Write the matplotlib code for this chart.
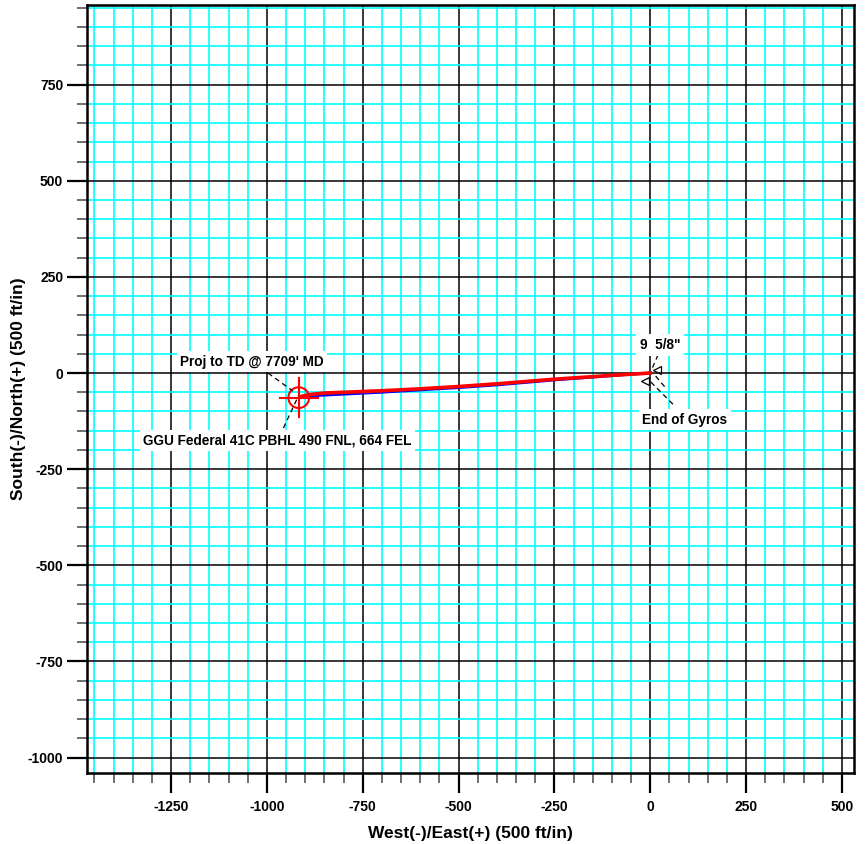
import numpy as np
import matplotlib.pyplot as plt
from matplotlib.ticker import MultipleLocator
from matplotlib.patches import Circle

plt.rcParams['font.family'] = ['Liberation Sans', 'DejaVu Sans']
plt.rcParams['font.weight'] = 'bold'
plt.rcParams['axes.unicode_minus'] = False

# well path (plan view), East / North in ft
plan_ew = [0, -50, -100, -250, -400, -500, -600, -700, -750, -800, -850, -880, -900, -914]
plan_ns = [0, -3, -6, -16, -28, -35, -41, -46, -48, -50, -52, -55, -58, -62]
# actual survey
svy_ew = [0, -50, -100, -250, -400, -500, -600, -700, -800, -880, -914]
svy_ns = [0, -3, -7, -18, -31, -38, -44, -50, -55, -59, -63]

# target (PBHL)
target_ew, target_ns = -917, -64

# casing / end-of-gyro markers
marker_ew = [17, -14]
marker_ns = [8, -21]

# labels: text, text position, leader start, leader end
labels = ["Proj to TD @ 7709' MD", "GGU Federal 41C PBHL 490 FNL, 664 FEL",
          '9  5/8"', "End of Gyros"]
label_ew = [-1039, -973, 26, 90]
label_ns = [30, -176, 73, -121]
leader_from = [(-997, 0), (-957, -143), (20, 47), (59, -81)]
leader_to = [(-932, -47), (-918, -60), (4, 10), (-6, -16)]
extra_leader = [(14, -8), (43, -42)]

fig = plt.figure(figsize=(8.67, 8.44), dpi=100)
ax = fig.add_axes([0.1, 0.0838, 0.8853, 0.9106])

ax.set_xlim(-1470, 532)
ax.set_ylim(-1041, 958)

ax.xaxis.set_major_locator(MultipleLocator(250))
ax.xaxis.set_minor_locator(MultipleLocator(50))
ax.yaxis.set_major_locator(MultipleLocator(250))
ax.yaxis.set_minor_locator(MultipleLocator(50))

ax.grid(which='minor', color='#00ffff', lw=1.2)
ax.grid(which='major', color='black', lw=1.1)
ax.set_axisbelow(True)

ax.tick_params(which='major', length=14.4, width=1.6, color='black', labelsize=10)
ax.tick_params(axis='x', which='major', pad=4.5)
ax.tick_params(axis='y', which='major', pad=2.5)
ax.tick_params(which='minor', length=7.2, width=1.2, color='#555555')
for lab in ax.get_xticklabels() + ax.get_yticklabels():
    lab.set_fontweight('bold')
for s in ax.spines.values():
    s.set_linewidth(1.8)

# path
ax.plot(svy_ew, svy_ns, color='blue', lw=2.0, zorder=3)
ax.plot(plan_ew, plan_ns, color='red', lw=2.6, zorder=4)

# target circle + cross
ax.add_patch(Circle((target_ew, target_ns), 27, fill=False, ec='red', lw=1.5, zorder=5))
arm = 50
ax.plot([target_ew - arm, target_ew + arm], [target_ns, target_ns], color='red', lw=1.5, zorder=5)
ax.plot([target_ew, target_ew], [target_ns - arm, target_ns + arm], color='red', lw=1.5, zorder=5)

ax.plot(marker_ew, marker_ns, ls='none', marker='<', ms=6, mfc='none', mec='black', mew=0.9, zorder=6)

for (x0, y0), (x1, y1) in zip(leader_from + [extra_leader[0]], leader_to + [extra_leader[1]]):
    ax.plot([x0, x1], [y0, y1], color='black', lw=0.9, ls=(0, (4, 3)), zorder=6)

for t, x, y in zip(labels, label_ew, label_ns):
    ax.text(x, y, t, ha='center', va='center', fontsize=9.8, fontweight='bold', zorder=7,
            bbox=dict(facecolor='white', edgecolor='none', pad=2.5))

ax.set_xlabel('West(-)/East(+) (500 ft/in)', fontsize=12.5, fontweight='bold', labelpad=9)
ax.set_ylabel('South(-)/North(+) (500 ft/in)', fontsize=12.5, fontweight='bold', labelpad=1.5)

fig.savefig('out.png', dpi=100)
